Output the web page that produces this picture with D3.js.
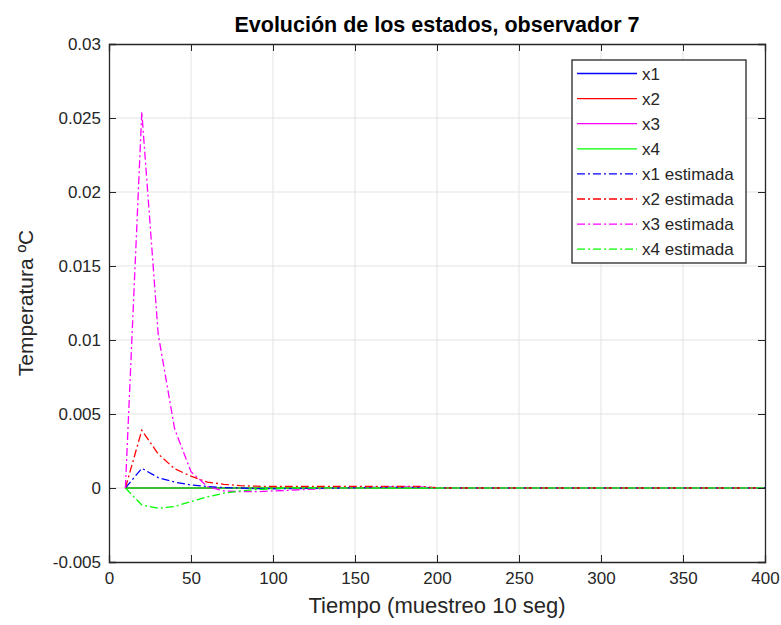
<!DOCTYPE html>
<html>
<head>
<meta charset="utf-8">
<script src="https://cdn.jsdelivr.net/npm/d3@7"></script>
<style>
  body { margin: 0; background: #fff; }
  svg { font-family: "Liberation Sans", Arial, sans-serif; }
</style>
</head>
<body>
<div id="chart"></div>
<script>
// sample instants (muestreo)
var tiempo = [10, 20, 30, 40, 50, 60, 70, 80, 90, 100,
  110, 120, 130, 140, 150, 160, 170, 180, 190, 200,
  210, 220, 230, 240, 250, 260, 270, 280, 290, 300,
  310, 320, 330, 340, 350, 360, 370, 380, 390, 400];

// real states (all stay at zero)
var x1 = [0,0,0,0,0,0,0,0,0,0, 0,0,0,0,0,0,0,0,0,0, 0,0,0,0,0,0,0,0,0,0, 0,0,0,0,0,0,0,0,0,0];
var x2 = [0,0,0,0,0,0,0,0,0,0, 0,0,0,0,0,0,0,0,0,0, 0,0,0,0,0,0,0,0,0,0, 0,0,0,0,0,0,0,0,0,0];
var x3 = [0,0,0,0,0,0,0,0,0,0, 0,0,0,0,0,0,0,0,0,0, 0,0,0,0,0,0,0,0,0,0, 0,0,0,0,0,0,0,0,0,0];
var x4 = [0,0,0,0,0,0,0,0,0,0, 0,0,0,0,0,0,0,0,0,0, 0,0,0,0,0,0,0,0,0,0, 0,0,0,0,0,0,0,0,0,0];

// estimated states
var x1e = [0, 0.00133, 0.0007, 0.0004, 0.0002, 0.0001, 0.00003, 0, -0.00004, -0.00005,
  -0.00004, -0.00003, -0.00002, 0, 0.00002, 0.00004, 0.00005, 0.00005, 0.00004, 0.00002,
  0, 0, 0, 0, 0, 0, 0, 0, 0, 0, 0, 0, 0, 0, 0, 0, 0, 0, 0, 0];
var x2e = [0, 0.0039, 0.0023, 0.0013, 0.0008, 0.0004, 0.00025, 0.00016, 0.00012, 0.0001,
  0.0001, 0.0001, 0.0001, 0.0001, 0.0001, 0.0001, 0.0001, 0.0001, 0.0001, 0.00002,
  0, 0, 0, 0, 0, 0, 0, 0, 0, 0, 0, 0, 0, 0, 0, 0, 0, 0, 0, 0];
var x3e = [0, 0.0254, 0.0104, 0.0040, 0.0011, 0.0001, -0.0002, -0.00025, -0.00025, -0.0002,
  -0.00015, -0.0001, -0.00005, 0, 0, 0.00002, 0.00004, 0.00005, 0.00005, 0.00002,
  0, 0, 0, 0, 0, 0, 0, 0, 0, 0, 0, 0, 0, 0, 0, 0, 0, 0, 0, 0];
var x4e = [0, -0.00115, -0.00137, -0.00125, -0.00092, -0.0006, -0.00035, -0.0002, -0.0001, -0.00005,
  0, 0, 0, 0, 0, 0, 0, 0, 0, 0,
  0, 0, 0, 0, 0, 0, 0, 0, 0, 0, 0, 0, 0, 0, 0, 0, 0, 0, 0, 0];

var xTicks = [0, 50, 100, 150, 200, 250, 300, 350, 400];
var yTicks = [-0.005, 0, 0.005, 0.01, 0.015, 0.02, 0.025, 0.03];
var yTickLabels = ["-0.005", "0", "0.005", "0.01", "0.015", "0.02", "0.025", "0.03"];

var series = [
  {name: "x1", values: x1, color: "#0000ff", dash: null},
  {name: "x2", values: x2, color: "#ff0000", dash: null},
  {name: "x3", values: x3, color: "#ff00ff", dash: null},
  {name: "x4", values: x4, color: "#00ff00", dash: null},
  {name: "x1 estimada", values: x1e, color: "#0000ff", dash: "8,3,2,3"},
  {name: "x2 estimada", values: x2e, color: "#ff0000", dash: "8,3,2,3"},
  {name: "x3 estimada", values: x3e, color: "#ff00ff", dash: "8,3,2,3"},
  {name: "x4 estimada", values: x4e, color: "#00ff00", dash: "8,3,2,3"}
];

var W = 781, H = 625;
var margin = {top: 44, right: 16, bottom: 63, left: 109};
var width = W - margin.left - margin.right;
var height = H - margin.top - margin.bottom;
var axisColor = "#262626";

var svg = d3.select("#chart").append("svg")
  .attr("width", W)
  .attr("height", H);

var g = svg.append("g")
  .attr("transform", "translate(" + margin.left + "," + margin.top + ")");

var xScale = d3.scaleLinear().domain([0, 400]).range([0, width]);
var yScale = d3.scaleLinear().domain([-0.005, 0.03]).range([height, 0]);

// grid
g.append("g").selectAll("line").data(xTicks.slice(1, -1)).enter().append("line")
  .attr("x1", function(d) { return xScale(d); })
  .attr("x2", function(d) { return xScale(d); })
  .attr("y1", 0).attr("y2", height)
  .attr("stroke", "#e3e3e3").attr("stroke-width", 1);
g.append("g").selectAll("line").data(yTicks.slice(1, -1)).enter().append("line")
  .attr("y1", function(d) { return yScale(d); })
  .attr("y2", function(d) { return yScale(d); })
  .attr("x1", 0).attr("x2", width)
  .attr("stroke", "#e3e3e3").attr("stroke-width", 1);

// lines
var line = d3.line()
  .x(function(d, i) { return xScale(tiempo[i]); })
  .y(function(d) { return yScale(d); });

g.append("g").selectAll("path").data(series).enter().append("path")
  .attr("d", function(s) { return line(s.values); })
  .attr("fill", "none")
  .attr("stroke", function(s) { return s.color; })
  .attr("stroke-width", 1.3)
  .attr("stroke-dasharray", function(s) { return s.dash; });

// axes
var xAxis = d3.axisBottom(xScale).tickValues(xTicks).tickSize(-7).tickPadding(10).tickFormat(d3.format("d"));
var yAxis = d3.axisLeft(yScale).tickValues(yTicks).tickSize(-7).tickPadding(8)
  .tickFormat(function(d, i) { return yTickLabels[i]; });
var xTop = d3.axisTop(xScale).tickValues(xTicks).tickSize(-7).tickFormat("");
var yRight = d3.axisRight(yScale).tickValues(yTicks).tickSize(-7).tickFormat("");

function styleAxis(sel) {
  sel.selectAll("path").attr("stroke", axisColor);
  sel.selectAll("line").attr("stroke", axisColor);
  sel.selectAll("text").attr("fill", axisColor).style("font-size", "17px")
    .style("font-family", "'Liberation Sans', Arial, sans-serif");
}

g.append("g").attr("transform", "translate(0," + height + ")").call(xAxis).call(styleAxis);
g.append("g").call(yAxis).call(styleAxis);
g.append("g").call(xTop).call(styleAxis);
g.append("g").attr("transform", "translate(" + width + ",0)").call(yRight).call(styleAxis);
g.selectAll(".domain").attr("stroke-width", 1.3);

// title and labels
svg.append("text")
  .attr("x", margin.left + width / 2).attr("y", 32)
  .attr("text-anchor", "middle")
  .style("font-size", "21.5px").style("font-weight", "bold")
  .attr("fill", "#000")
  .text("Evolución de los estados, observador 7");

svg.append("text")
  .attr("x", margin.left + width / 2).attr("y", 613)
  .attr("text-anchor", "middle")
  .style("font-size", "22px")
  .attr("fill", axisColor)
  .text("Tiempo (muestreo 10 seg)");

svg.append("text")
  .attr("transform", "translate(33," + (margin.top + height / 2) + ") rotate(-90)")
  .attr("text-anchor", "middle")
  .style("font-size", "21px")
  .attr("fill", axisColor)
  .text("Temperatura ºC");

// legend
var lg = svg.append("g").attr("transform", "translate(572,60)");
lg.append("rect")
  .attr("width", 174).attr("height", 203)
  .attr("fill", "#fff").attr("stroke", axisColor).attr("stroke-width", 1.3);

var item = lg.selectAll(".item").data(series).enter().append("g")
  .attr("transform", function(d, i) { return "translate(0," + (13.5 + i * 25.1) + ")"; });
item.append("line")
  .attr("x1", 5).attr("x2", 65)
  .attr("stroke", function(d) { return d.color; })
  .attr("stroke-width", 1.3)
  .attr("stroke-dasharray", function(d) { return d.dash; });
item.append("text")
  .attr("x", 70).attr("y", 6)
  .style("font-size", "17px")
  .attr("fill", axisColor)
  .text(function(d) { return d.name; });
</script>
</body>
</html>
